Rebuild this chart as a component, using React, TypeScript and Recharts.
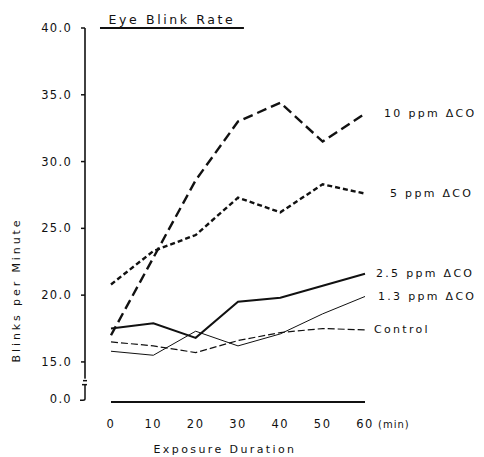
import { LineChart, Line, XAxis, YAxis, ReferenceLine, Label } from 'recharts';

// exposure time, minutes
const minutes = [0, 10, 20, 30, 40, 50, 60];

// blinks per minute
const ppm10 = [17.0, 22.8, 28.6, 33.0, 34.4, 31.5, 33.6];
const ppm5 = [20.8, 23.3, 24.5, 27.3, 26.2, 28.3, 27.6];
const ppm25 = [17.5, 17.9, 16.8, 19.5, 19.8, 20.7, 21.6];
const ppm13 = [15.8, 15.5, 17.3, 16.2, 17.1, 18.6, 19.9];
const control = [16.5, 16.2, 15.7, 16.6, 17.2, 17.5, 17.4];

const seriesNames = ['10 ppm \u0394CO', '5 ppm \u0394CO', '2.5 ppm \u0394CO', '1.3 ppm \u0394CO', 'Control'];

// the axis is broken below 15; BREAK_VALUE is where "0.0" sits
const BREAK_VALUE = 12.25;
const yTicks = [BREAK_VALUE, 15, 20, 25, 30, 35, 40];
const yTickLabels = ['0.0', '15.0', '20.0', '25.0', '30.0', '35.0', '40.0'];
const xTicks = [0, 10, 20, 30, 40, 50, 60];

const data = minutes.map((m, i) => ({
  minute: m,
  ppm10: ppm10[i],
  ppm5: ppm5[i],
  ppm25: ppm25[i],
  ppm13: ppm13[i],
  control: control[i],
}));

const series = [
  { key: 'ppm10', width: 2.4, dash: '10 5', labelDx: 19 },
  { key: 'ppm5', width: 2.4, dash: '5 3', labelDx: 25 },
  { key: 'ppm25', width: 2, dash: undefined, labelDx: 11 },
  { key: 'ppm13', width: 1, dash: undefined, labelDx: 13 },
  { key: 'control', width: 1.2, dash: '7 3', labelDx: 9 },
];

const FONT = 'DejaVu Sans';
const INK = '#111';
const TICK_GAP = 13;

function YTick(props: any) {
  const { x, y, payload } = props;
  const idx = yTicks.indexOf(payload.value);
  const ax = x + TICK_GAP;
  const text = (
    <text x={x} y={y} textAnchor="end" dominantBaseline="central" fill={INK} fontSize={11.5} letterSpacing={1.3}>
      {yTickLabels[idx]}
    </text>
  );
  if (payload.value === BREAK_VALUE) {
    return (
      <g>
        <rect x={ax - 4} y={y - 20} width={8} height={26} fill="#fff" />
        <line x1={ax - 2} y1={y - 18} x2={ax + 2} y2={y - 18} stroke={INK} strokeWidth={1.5} />
        <line x1={ax - 3} y1={y - 14} x2={ax + 2} y2={y - 14} stroke={INK} strokeWidth={1.5} />
        <path d={`M${ax},${y - 14} V${y} Q${ax},${y + 1.5} ${ax - 2},${y + 1.5} H${ax - 5}`} stroke={INK} strokeWidth={1.5} fill="none" />
        {text}
      </g>
    );
  }
  return (
    <g>
      <line x1={ax - 4} y1={y} x2={ax} y2={y} stroke={INK} strokeWidth={1.5} />
      {text}
    </g>
  );
}

function XTick(props: any) {
  const { x, y, payload } = props;
  return (
    <g>
      <text x={x} y={y} textAnchor="middle" dominantBaseline="central" fill={INK} fontSize={11.5} letterSpacing={1.5}>
        {payload.value}
      </text>
      {payload.value === 60 && (
        <text x={x + 13} y={y} dominantBaseline="central" fill={INK} fontSize={10} letterSpacing={1}>
          (min)
        </text>
      )}
    </g>
  );
}

function endLabel(name: string, dx: number) {
  return (props: any) => {
    if (props.index !== minutes.length - 1) return null;
    return (
      <text x={props.x + dx} y={props.y} dominantBaseline="central" fill={INK} fontSize={11} letterSpacing={2.3}>
        {name}
      </text>
    );
  };
}

export default function App() {
  return (
    <div style={{ position: 'absolute', left: 0, top: 0, background: '#fff' }}>
      <LineChart
        width={484}
        height={457}
        data={data}
        margin={{ top: 28, right: 119, bottom: 0, left: 0 }}
        style={{ fontFamily: FONT }}
      >
        <XAxis
          dataKey="minute"
          type="number"
          domain={[0, 60]}
          ticks={xTicks}
          padding={{ left: 26, right: 0 }}
          axisLine={false}
          tickLine={false}
          tickSize={0}
          tickMargin={22}
          height={55}
          tick={<XTick />}
        >
          <Label
            value="Exposure Duration"
            position="insideBottom"
            offset={4}
            fill={INK}
            fontSize={11}
            letterSpacing={2.4}
          />
        </XAxis>
        <YAxis
          type="number"
          domain={[12, 40]}
          ticks={yTicks}
          width={85}
          axisLine={{ stroke: INK, strokeWidth: 1.6 }}
          tickLine={false}
          tickSize={0}
          tickMargin={TICK_GAP}
          tick={<YTick />}
        >
          <Label
            content={() => (
              <text
                x={16}
                y={290}
                transform="rotate(-90 16 290)"
                textAnchor="middle"
                dominantBaseline="central"
                fill={INK}
                fontSize={11}
                letterSpacing={2.9}
              >
                Blinks per Minute
              </text>
            )}
          />
        </YAxis>
        <ReferenceLine
          segment={[{ x: 0, y: 12 }, { x: 60, y: 12 }]}
          stroke={INK}
          strokeWidth={2}
          ifOverflow="visible"
        />
        <ReferenceLine
          segment={[{ x: -2.6, y: 40 }, { x: 31.4, y: 40 }]}
          stroke={INK}
          strokeWidth={2}
          ifOverflow="visible"
          label={{ value: 'Eye Blink Rate', position: 'top', offset: 4, fill: INK, fontSize: 12.5, letterSpacing: 2.6 }}
        />
        {series.map((s, i) => (
          <Line
            key={s.key}
            dataKey={s.key}
            stroke={INK}
            strokeWidth={s.width}
            strokeDasharray={s.dash}
            dot={false}
            activeDot={false}
            type="linear"
            isAnimationActive={false}
            label={endLabel(seriesNames[i], s.labelDx)}
          />
        ))}
      </LineChart>
    </div>
  );
}
